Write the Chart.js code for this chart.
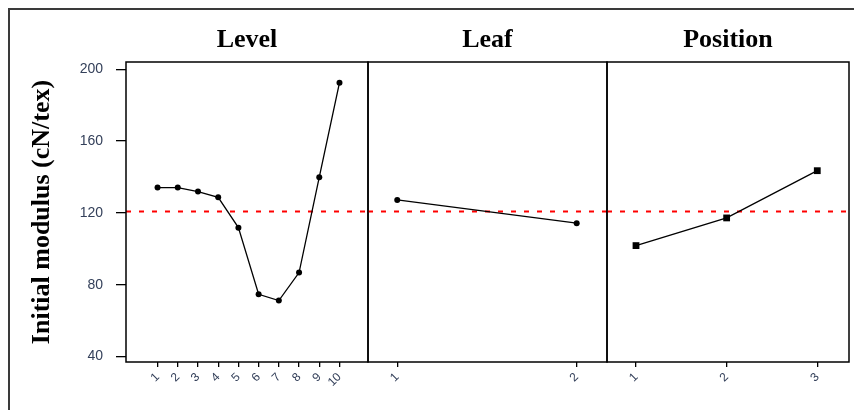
<!DOCTYPE html>
<html>
<head>
<meta charset="utf-8">
<title>Main effects plot</title>
<script src="https://cdn.jsdelivr.net/npm/chart.js@4/dist/chart.umd.min.js"></script>
<style>
  body { margin: 0; background: #fff; overflow: hidden; }
  #wrap { position: relative; width: 854px; height: 410px; overflow: hidden; }
  #frame { position: absolute; left: 8px; top: 8px; width: 900px; height: 500px; border: 2px solid #3a3a3a; }
  canvas { position: absolute; left: 0; top: 0; }
</style>
</head>
<body>
<div id="wrap">
  <div id="frame"></div>
  <canvas id="c-level" width="854" height="410"></canvas>
  <canvas id="c-leaf" width="854" height="410"></canvas>
  <canvas id="c-position" width="854" height="410"></canvas>
</div>
<script>
// mean initial modulus for each factor level
const levelCats = [1, 2, 3, 4, 5, 6, 7, 8, 9, 10];
const levelMeans = [134.1, 134.1, 131.9, 128.7, 111.8, 74.7, 71.2, 86.8, 139.9, 192.5];
const leafCats = [1, 2];
const leafMeans = [127.2, 114.3];
const positionCats = [1, 2, 3];
const positionMeans = [101.8, 117.2, 143.5];
const grandMean = 120.8;
const yTicks = [40, 80, 120, 160, 200];

const serif = '"Liberation Serif", "Times New Roman", serif';
const sans = '"Liberation Sans", Arial, sans-serif';
const tickColor = '#34405a';

// title above each panel, centred on its plot box
const panelTitle = {
    id: 'panelTitle',
    afterDraw(chart, args, opts) {
        const { ctx, chartArea } = chart;
        ctx.save();
        ctx.font = 'bold 26px ' + serif;
        ctx.fillStyle = '#000';
        ctx.textAlign = 'center';
        ctx.textBaseline = 'middle';
        ctx.fillText(opts.text, (chartArea.left + chartArea.right) / 2, 40);
        ctx.restore();
    }
};

// box around the plot area
const panelBox = {
    id: 'panelBox',
    afterDatasetsDraw(chart) {
        const { ctx, chartArea } = chart;
        ctx.save();
        ctx.strokeStyle = '#000';
        ctx.lineWidth = 1.5;
        ctx.strokeRect(chartArea.left, chartArea.top, chartArea.right - chartArea.left, chartArea.bottom - chartArea.top);
        ctx.restore();
    }
};

function makePanel(id, title, cats, means, xMin, xMax, marker, pad, showY) {
    const points = cats.map((c, i) => ({ x: c, y: means[i] }));
    new Chart(document.getElementById(id), {
        type: 'line',
        data: {
            datasets: [{
                data: points,
                borderColor: '#000',
                borderWidth: 1.3,
                pointStyle: marker,
                pointRadius: marker === 'rect' ? 4.8 : 3,
                pointBackgroundColor: '#000',
                pointBorderColor: '#000',
                pointBorderWidth: 0
            }, {
                data: [{ x: xMin, y: grandMean }, { x: xMax, y: grandMean }],
                borderColor: '#ff0000',
                borderWidth: 2,
                borderDash: [5, 8],
                pointRadius: 0
            }]
        },
        options: {
            responsive: false,
            animation: false,
            events: [],
            layout: { padding: pad },
            plugins: {
                legend: { display: false },
                tooltip: { enabled: false },
                panelTitle: { text: title }
            },
            scales: {
                x: {
                    type: 'linear',
                    min: xMin,
                    max: xMax,
                    afterBuildTicks: s => { s.ticks = cats.map(v => ({ value: v })); },
                    afterFit: s => { s.height = 48; },
                    grid: { drawOnChartArea: false, tickLength: 5, color: '#000', lineWidth: 1.3 },
                    border: { display: false },
                    ticks: {
                        autoSkip: false,
                        minRotation: 45,
                        maxRotation: 45,
                        padding: 3,
                        color: tickColor,
                        font: { family: sans, size: 12 },
                        callback: v => String(v)
                    }
                },
                y: {
                    display: showY,
                    min: 37,
                    max: 204,
                    afterBuildTicks: s => { s.ticks = yTicks.map(v => ({ value: v })); },
                    afterFit: s => { s.width = showY ? 126 : 0; },
                    grid: { drawOnChartArea: false, tickLength: 10, color: '#000', lineWidth: 1.3 },
                    border: { display: false },
                    ticks: {
                        padding: 13,
                        color: tickColor,
                        font: { family: sans, size: 14 }
                    },
                    title: {
                        display: true,
                        text: 'Initial modulus (cN/tex)',
                        color: '#000',
                        font: { family: serif, size: 26, weight: 'bold' },
                        padding: { top: 27, bottom: 0 }
                    }
                }
            }
        },
        plugins: [panelTitle, panelBox]
    });
}

makePanel('c-level', 'Level', levelCats, levelMeans, -0.56, 11.41, 'circle',
    { left: 0, right: 486, top: 62, bottom: 0 }, true);
makePanel('c-leaf', 'Leaf', leafCats, leafMeans, 0.837, 2.169, 'circle',
    { left: 368, right: 247, top: 62, bottom: 0 }, false);
makePanel('c-position', 'Position', positionCats, positionMeans, 0.68, 3.35, 'rect',
    { left: 607, right: 5, top: 62, bottom: 0 }, false);
</script>
</body>
</html>
